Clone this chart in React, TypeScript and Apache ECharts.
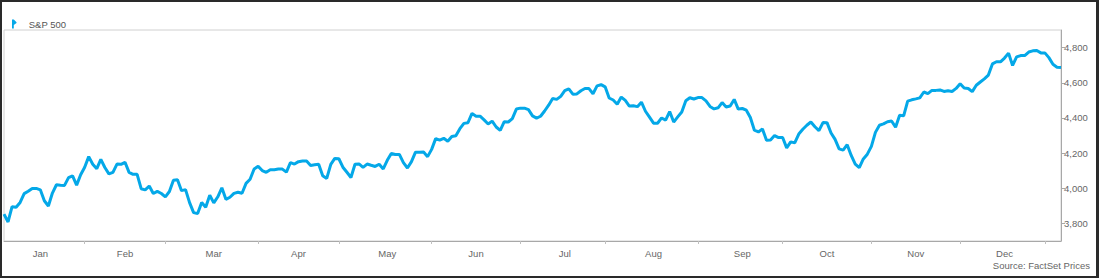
import React, { useEffect, useRef } from "react";
import * as echarts from "echarts";

// ---- Data ----
const seriesName = "S&P 500";
const sourceText = "Source: FactSet Prices";
const firstDate = "2023-01-04"; // first weekday shown (holidays carry prior close)
const monthLabels = ["Jan", "Feb", "Mar", "Apr", "May", "Jun", "Jul", "Aug", "Sep", "Oct", "Nov", "Dec"];
const yTicks = [3800, 4000, 4200, 4400, 4600, 4800];
const yMin = 3700;
const yMax = 4900;

const jan23 = [3852.97, 3808.1, 3895.08, 3892.09, 3919.25, 3969.61, 3983.17, 3999.09, 3999.09, 3990.97, 3928.86, 3898.85, 3972.61, 4019.81, 4016.95, 4016.22, 4060.43, 4070.56, 4017.77, 4076.6];
const feb23 = [4119.21, 4179.76, 4136.48, 4111.08, 4164.0, 4117.86, 4081.5, 4090.46, 4137.29, 4136.13, 4147.6, 4090.41, 4079.09, 4079.09, 3997.34, 3991.05, 4012.32, 3970.04, 3982.24, 3970.15];
const mar23 = [3951.39, 3981.35, 4045.64, 4048.42, 3986.37, 3992.01, 3918.32, 3861.59, 3855.76, 3919.29, 3891.93, 3960.28, 3916.64, 3951.57, 4002.87, 3936.97, 3948.72, 3970.99, 3977.53, 3971.27, 4027.81, 4050.83, 4109.31];
const apr23 = [4124.51, 4100.6, 4090.38, 4105.02, 4105.02, 4109.11, 4108.94, 4091.95, 4146.22, 4137.64, 4151.32, 4154.87, 4154.52, 4129.79, 4133.52, 4137.04, 4071.63, 4055.99, 4135.35, 4169.48];
const may23 = [4167.87, 4119.58, 4090.75, 4061.22, 4136.25, 4138.12, 4119.17, 4137.64, 4130.62, 4124.08, 4136.28, 4109.9, 4158.77, 4198.05, 4191.98, 4192.63, 4145.58, 4115.24, 4151.28, 4205.45, 4205.45, 4205.52, 4179.83];
const jun23 = [4221.02, 4282.37, 4273.79, 4283.85, 4267.52, 4293.93, 4298.86, 4338.93, 4369.01, 4372.59, 4425.84, 4409.59, 4409.59, 4388.71, 4365.69, 4381.89, 4348.33, 4328.82, 4378.41, 4376.86, 4396.44, 4450.38];
const jul23 = [4455.59, 4455.59, 4446.82, 4411.59, 4398.95, 4409.53, 4439.26, 4472.16, 4510.04, 4505.42, 4522.79, 4554.98, 4565.72, 4534.87, 4536.34, 4554.64, 4567.46, 4566.75, 4537.41, 4582.23, 4588.96];
const aug23 = [4576.73, 4513.39, 4501.89, 4478.03, 4518.44, 4499.38, 4467.71, 4468.83, 4464.05, 4489.72, 4437.86, 4404.33, 4370.36, 4369.71, 4399.77, 4387.55, 4436.01, 4376.31, 4405.71, 4433.31, 4497.63, 4514.87, 4507.66];
const sep23 = [4515.77, 4515.77, 4496.83, 4465.48, 4451.14, 4457.49, 4487.46, 4461.9, 4467.44, 4505.1, 4450.32, 4453.53, 4443.95, 4402.2, 4330.0, 4320.06, 4337.44, 4273.53, 4274.51, 4299.7, 4288.05];
const oct23 = [4288.39, 4229.45, 4263.75, 4258.19, 4308.5, 4335.66, 4358.24, 4376.95, 4349.61, 4327.78, 4373.63, 4373.2, 4314.6, 4278.0, 4224.16, 4217.04, 4247.68, 4186.77, 4137.23, 4117.37, 4166.82, 4193.8];
const nov23 = [4237.86, 4317.78, 4358.34, 4365.98, 4378.38, 4382.78, 4347.35, 4415.24, 4411.55, 4495.7, 4502.88, 4508.24, 4514.02, 4547.38, 4538.19, 4556.62, 4556.62, 4559.34, 4550.43, 4554.89, 4550.58, 4567.8];
const dec23 = [4594.63, 4569.78, 4567.18, 4549.34, 4585.59, 4604.37, 4622.44, 4643.7, 4707.09, 4719.55, 4719.19, 4740.56, 4768.37, 4698.35, 4746.75, 4754.63, 4754.63, 4774.75, 4781.58, 4783.35, 4769.83];
const jan24 = [4769.83, 4742.83, 4704.81, 4688.68, 4687.0];

const closes = [...jan23, ...feb23, ...mar23, ...apr23, ...may23, ...jun23, ...jul23, ...aug23, ...sep23, ...oct23, ...nov23, ...dec23, ...jan24];

// ---- helpers ----
function weekdaysFrom(start: string, count: number): string[] {
  const out: string[] = [];
  const d = new Date(start + "T00:00:00Z");
  while (out.length < count) {
    const wd = d.getUTCDay();
    if (wd !== 0 && wd !== 6) out.push(d.toISOString().slice(0, 10));
    d.setUTCDate(d.getUTCDate() + 1);
  }
  return out;
}

export default function App() {
  const ref = useRef<HTMLDivElement>(null);

  useEffect(() => {
    document.body.style.margin = "0";
    if (!ref.current) return;

    const dates = weekdaysFrom(firstDate, closes.length);
    // full weekday calendar from Jan 2 (first weekday of the year) to compute month centres
    const full = weekdaysFrom("2023-01-02", closes.length + 2);
    const offset = full.indexOf(firstDate);
    const monthStarts: number[] = [];
    full.forEach((d, i) => {
      if (i === 0 || d.slice(0, 7) !== full[i - 1].slice(0, 7)) monthStarts.push(i);
    });
    const labelByDate: Record<string, string> = {};
    for (let m = 0; m < 12 && m + 1 < monthStarts.length; m++) {
      const mid = Math.round((monthStarts[m] + monthStarts[m + 1]) / 2) - offset;
      if (mid >= 0 && mid < dates.length) labelByDate[dates[mid]] = monthLabels[m];
    }
    const tickSet = new Set<number>();
    dates.forEach((d, i) => {
      if (i > 0 && d.slice(0, 7) !== dates[i - 1].slice(0, 7)) tickSet.add(i);
    });

    const font = 'Arial, "Liberation Sans", sans-serif';
    const chart = echarts.init(ref.current, null, { renderer: "svg" });
    chart.setOption({
      animation: false,
      backgroundColor: "#ffffff",
      textStyle: { fontFamily: font },
      grid: {
        left: 4,
        right: 38,
        top: 30,
        bottom: 37,
        show: true,
        borderColor: "#d0d0d0",
        borderWidth: 1,
      },
      legend: {
        show: true,
        left: 7,
        top: 14,
        data: [
          {
            name: seriesName,
            icon: "path://M0,0 L2,0 L5,3 L5,4 L2,6 L2,10 L0,10 Z",
          },
        ],
        itemWidth: 5,
        itemHeight: 9,
        textStyle: { color: "#555", fontSize: 9.5, fontFamily: font, padding: [0, 0, 0, 7] },
      },
      xAxis: {
        type: "category",
        data: dates,
        boundaryGap: false,
        axisLine: { show: true, lineStyle: { color: "#a8a8a8", width: 1 } },
        axisTick: {
          show: true,
          length: 3,
          interval: (idx: number) => tickSet.has(idx),
          lineStyle: { color: "#c0c0c0" },
        },
        axisLabel: {
          interval: (_idx: number, val: string) => !!labelByDate[val],
          formatter: (val: string) => labelByDate[val] || "",
          color: "#666",
          fontSize: 9.5,
          fontFamily: font,
          margin: 7,
          hideOverlap: false,
        },
        splitLine: { show: false },
      },
      yAxis: {
        type: "value",
        position: "right",
        min: yMin,
        max: yMax,
        axisLine: { show: true, lineStyle: { color: "#a8a8a8", width: 1 } },
        axisTick: {
          show: true,
          length: 4,
          customValues: yTicks,
          lineStyle: { color: "#a8a8a8" },
        },
        axisLabel: {
          customValues: yTicks,
          formatter: (v: number) => v.toLocaleString("en-US"),
          color: "#666",
          fontSize: 9.5,
          fontFamily: font,
          margin: 3,
        },
        splitLine: { show: false },
      },
      series: [
        {
          name: seriesName,
          type: "line",
          data: closes,
          showSymbol: false,
          smooth: false,
          color: "#04a8e8",
          lineStyle: { color: "#04a8e8", width: 3 },
        },
      ],
      graphic: [
        {
          type: "text",
          right: 9,
          top: 260,
          style: { text: sourceText, fill: "#666", font: `9.5px ${font}` },
        },
      ],
    });
    return () => chart.dispose();
  }, []);

  return (
    <div style={{ position: "relative", width: 1099, height: 278 }}>
      <div ref={ref} style={{ position: "absolute", left: 0, top: 0, width: 1099, height: 278 }} />
      <div
        style={{
          position: "absolute",
          left: 0,
          top: 0,
          width: 1099,
          height: 278,
          boxSizing: "border-box",
          borderTop: "2px solid #2a2a2a",
          borderLeft: "2px solid #2a2a2a",
          borderRight: "3px solid #2a2a2a",
          borderBottom: "2px solid #2a2a2a",
          pointerEvents: "none",
        }}
      />
    </div>
  );
}
